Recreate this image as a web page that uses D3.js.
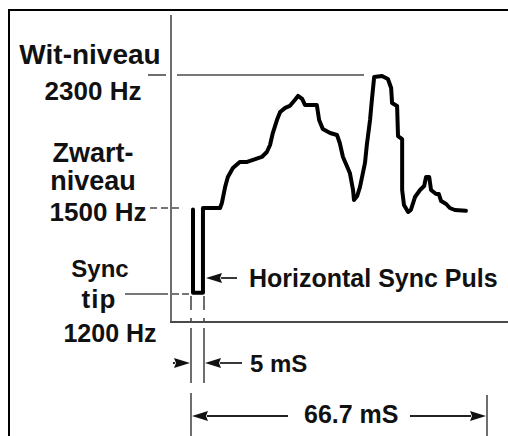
<!DOCTYPE html>
<html>
<head>
<meta charset="utf-8">
<script src="https://cdn.jsdelivr.net/npm/d3@7"></script>
<style>
  body { margin: 0; background: #fff; }
  text { font-family: "Liberation Sans", Arial, sans-serif; font-weight: bold; fill: #111; }
</style>
</head>
<body>
<div id="chart"></div>
<script>
// waveform (time in ms, frequency in Hz)
var timeMs = [0.77, 0.77, 4.6, 4.6, 8.5, 8.9, 9.6, 10.2, 11.3, 12.8, 14.4, 15.7, 17.6, 18.7,
  19.4, 20.0, 20.9, 21.6, 22.7, 23.7, 24.8, 25.5, 26.4, 27.0, 29.6, 30.1, 30.9, 32.5, 34.0,
  34.6, 35.3, 36.8, 37.5, 37.7, 38.4, 39.0, 40.1, 40.5, 41.2, 41.6, 42.1, 43.8, 45.1, 45.8,
  46.0, 47.1, 47.3, 48.2, 48.2, 48.6, 49.5, 50.1, 51.0, 52.1, 53.0, 53.4, 54.1, 54.5, 55.6,
  56.2, 56.7, 57.8, 58.6, 59.7, 62.1];
var freqHz = [1495, 1204, 1204, 1500, 1500, 1530, 1626, 1686, 1741, 1777, 1777, 1789, 1807, 1837,
  1879, 1951, 2029, 2077, 2102, 2114, 2150, 2174, 2156, 2120, 2120, 2029, 1975, 1951, 1939,
  1891, 1807, 1711, 1608, 1548, 1572, 1626, 1771, 1879, 2029, 2150, 2288, 2294, 2276, 2222,
  2132, 2114, 1933, 1915, 1608, 1518, 1486, 1493, 1566, 1608, 1632, 1686, 1686, 1608, 1584,
  1584, 1542, 1524, 1500, 1493, 1490];

// levels on the frequency axis
var levelHz = [2300, 1500, 1200];
var levelLabels = ["2300 Hz", "1500 Hz", "1200 Hz"];
var levelNames = [["Wit-niveau"], ["Zwart-", "niveau"], ["Sync", "tip"]];

// time spans marked under the axis
var spanMs = [0, 5, 66.7];
var spanLabels = ["5 mS", "66.7 mS"];
var pulseLabel = "Horizontal Sync Puls";

var width = 508, height = 436;

var svg = d3.select("#chart")
  .append("svg")
  .attr("width", width)
  .attr("height", height);

// diagram is not to scale, so both scales are piecewise
var x = d3.scaleLinear().domain(spanMs).range([191, 204, 487]);
var y = d3.scaleLinear().domain([1200, 1500, 2300]).range([294, 208, 75]);

var axisX = 171, axisY = 322;
var grey = "#4a4a4a";

// frame (left + top)
svg.append("path")
  .attr("d", "M9,436 V10 H508")
  .attr("fill", "none")
  .attr("stroke", "#000")
  .attr("stroke-width", 2);

// axes
svg.append("line")
  .attr("x1", axisX).attr("x2", axisX)
  .attr("y1", 15).attr("y2", axisY)
  .attr("stroke", grey).attr("stroke-width", 1.6);
svg.append("line")
  .attr("x1", axisX - 1).attr("x2", width)
  .attr("y1", axisY).attr("y2", axisY)
  .attr("stroke", grey).attr("stroke-width", 2);

function hline(x1, x2, yy, dash) {
  svg.append("line")
    .attr("x1", x1).attr("x2", x2)
    .attr("y1", yy).attr("y2", yy)
    .attr("stroke", grey).attr("stroke-width", 1.6)
    .attr("stroke-dasharray", dash || null);
}
function vline(xx, y1, y2, dash) {
  svg.append("line")
    .attr("x1", xx).attr("x2", xx)
    .attr("y1", y1).attr("y2", y2)
    .attr("stroke", grey).attr("stroke-width", 1.6)
    .attr("stroke-dasharray", dash || null);
}

// level reference lines
hline(148, 166, y(levelHz[0]));
hline(177, 364, y(levelHz[0]));
hline(150, 183, y(levelHz[1]), "7,4");
hline(125, 168, y(levelHz[2]));
hline(172, x(spanMs[0]), y(levelHz[2]), "7,3");

// level names and labels
var nameRows = [
  {t: levelNames[0][0], cx: 90, by: 64, fs: 28},
  {t: levelLabels[0], cx: 93, by: 100, fs: 26},
  {t: levelNames[1][0], cx: 93, by: 162, fs: 27},
  {t: levelNames[1][1], cx: 93, by: 190, fs: 27},
  {t: levelLabels[1], cx: 98, by: 221, fs: 26},
  {t: levelNames[2][0], cx: 100, by: 277, fs: 24},
  {t: levelNames[2][1], cx: 99, by: 308, fs: 26},
  {t: levelLabels[2], cx: 110, by: 342, fs: 25}
];
svg.selectAll(".lvl")
  .data(nameRows)
  .enter().append("text")
  .attr("class", "lvl")
  .attr("x", function(d) { return d.cx; })
  .attr("y", function(d) { return d.by; })
  .attr("text-anchor", "middle")
  .style("font-size", function(d) { return d.fs + "px"; })
  .style("letter-spacing", function(d) { return d.t == "tip" ? "1px" : null; })
  .text(function(d) { return d.t; });

// dimension lines at t = 0 and t = 5
[spanMs[0], spanMs[1]].forEach(function(t) {
  vline(x(t), 296, axisY - 1, "14,8");
  vline(x(t), 328, 383);
});
vline(x(spanMs[0]), 393, height);
vline(x(spanMs[2]), 395, height);

// arrows
function arrow(tipX, yy, tailX) {
  var dir = tailX > tipX ? 1 : -1;
  var head = 16;
  svg.append("line")
    .attr("x1", tipX + dir * head - dir).attr("x2", tailX)
    .attr("y1", yy).attr("y2", yy)
    .attr("stroke", "#222").attr("stroke-width", 1.8);
  svg.append("path")
    .attr("d", "M" + tipX + "," + yy + " L" + (tipX + dir * head) + "," + (yy - 5) +
      " L" + (tipX + dir * (head - 2)) + "," + yy +
      " L" + (tipX + dir * head) + "," + (yy + 5) + " Z")
    .attr("fill", "#111");
}

// horizontal sync pulse pointer
arrow(x(spanMs[1]) + 2, 278, 237);
svg.append("text")
  .attr("x", 249).attr("y", 287)
  .style("font-size", "25px")
  .text(pulseLabel);

// 5 mS
arrow(x(spanMs[0]) - 1, 363, 173);
arrow(x(spanMs[1]) + 1, 363, 242);
svg.append("text")
  .attr("x", 250).attr("y", 372)
  .style("font-size", "24px")
  .text(spanLabels[0]);

// 66.7 mS
arrow(x(spanMs[0]) + 1, 416, 288);
arrow(x(spanMs[2]) - 1, 416, 410);
svg.append("text")
  .attr("x", 304).attr("y", 423)
  .style("font-size", "25px")
  .text(spanLabels[1]);

// waveform
var pts = timeMs.map(function(t, i) { return [t, freqHz[i]]; });
var line = d3.line()
  .x(function(d) { return x(d[0]); })
  .y(function(d) { return y(d[1]); });

svg.append("path")
  .datum(pts)
  .attr("d", line)
  .attr("fill", "none")
  .attr("stroke", "#000")
  .attr("stroke-width", 4)
  .attr("stroke-linejoin", "round")
  .attr("stroke-linecap", "round");
</script>
</body>
</html>
